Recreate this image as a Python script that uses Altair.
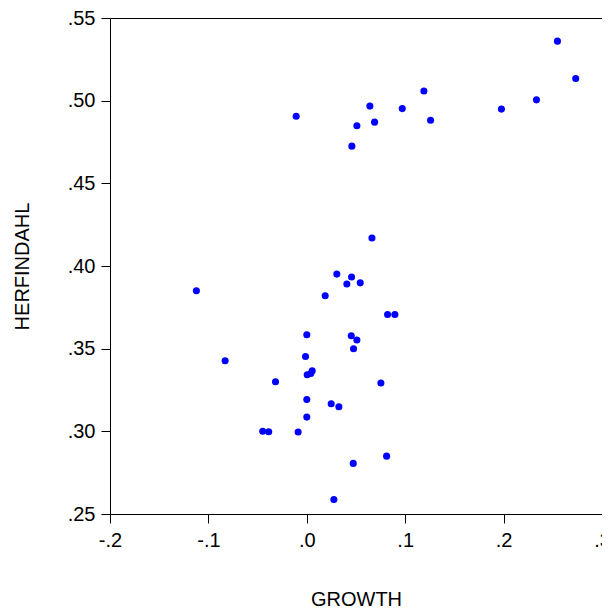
import altair as alt
import pandas as pd

growth = [0.2547, 0.2733, 0.2334, 0.1978, 0.1190, 0.1258, 0.0970, 0.0641, 0.0689,
          0.0509, 0.0458, -0.0108, 0.0662, 0.0305, 0.0455, 0.0407, 0.0543, -0.1122,
          0.0187, 0.0821, 0.0895, 0.0000, 0.0452, 0.0509, 0.0475, -0.0830, -0.0013,
          0.0055, 0.0040, 0.0004, -0.0318, 0.0753, 0.0000, 0.0248, 0.0326, 0.0000,
          -0.0448, -0.0387, -0.0088, 0.0811, 0.0472, 0.0275]
herfindahl = [0.5360, 0.5134, 0.5005, 0.4949, 0.5059, 0.4882, 0.4952, 0.4967, 0.4870,
              0.4848, 0.4725, 0.4906, 0.4169, 0.3951, 0.3933, 0.3891, 0.3898, 0.3850,
              0.3820, 0.3707, 0.3707, 0.3584, 0.3578, 0.3552, 0.3500, 0.3427, 0.3453,
              0.3366, 0.3350, 0.3342, 0.3300, 0.3292, 0.3193, 0.3167, 0.3149, 0.3086,
              0.3000, 0.2998, 0.2996, 0.2850, 0.2806, 0.2588]

x_ticks = [-0.2, -0.1, 0.0, 0.1, 0.2, 0.3]
y_ticks = [0.25, 0.30, 0.35, 0.40, 0.45, 0.50, 0.55]

df = pd.DataFrame({"GROWTH": growth, "HERFINDAHL": herfindahl})

FONT = "Liberation Sans"
FS = 20

chart = alt.Chart(df).mark_circle(size=50, color="#0000FF", opacity=1).encode(
    x=alt.X("GROWTH:Q",
            scale=alt.Scale(domain=[-0.2, 0.3], nice=False, zero=False),
            axis=alt.Axis(values=x_ticks, grid=False, title="GROWTH",
                          labelExpr="(datum.value < -0.0001 ? '-' : '') + substring(format(abs(datum.value), '.1f'), 1)",
                          tickSize=9, labelPadding=7,
                          titleX=246, titleY=85, titleAlign="center", titleBaseline="middle",
                          labelFontSize=FS, titleFontSize=FS, labelFont=FONT, titleFont=FONT,
                          labelColor="#000000", titleColor="#000000", titleFontWeight="normal",
                          domainColor="#000000", tickColor="#000000", labelFlush=False)),
    y=alt.Y("HERFINDAHL:Q",
            scale=alt.Scale(domain=[0.25, 0.55], nice=False, zero=False),
            axis=alt.Axis(values=y_ticks, grid=False, title="HERFINDAHL",
                          labelExpr="substring(format(datum.value, '.2f'), 1)",
                          tickSize=9, labelPadding=6,
                          titleX=-88, titleY=248, titleAlign="center", titleBaseline="middle",
                          labelFontSize=FS, titleFontSize=FS, labelFont=FONT, titleFont=FONT,
                          labelColor="#000000", titleColor="#000000", titleFontWeight="normal",
                          domainColor="#000000", tickColor="#000000", labelFlush=False)),
).properties(
    width=492, height=496,
    autosize=alt.AutoSizeParams(type="none"),
    padding={"left": 102, "top": 10, "right": 0, "bottom": 96},
).configure_view(stroke="#000000", strokeWidth=1)

chart.save("out.html", embed_options={"renderer": "svg", "actions": False})
